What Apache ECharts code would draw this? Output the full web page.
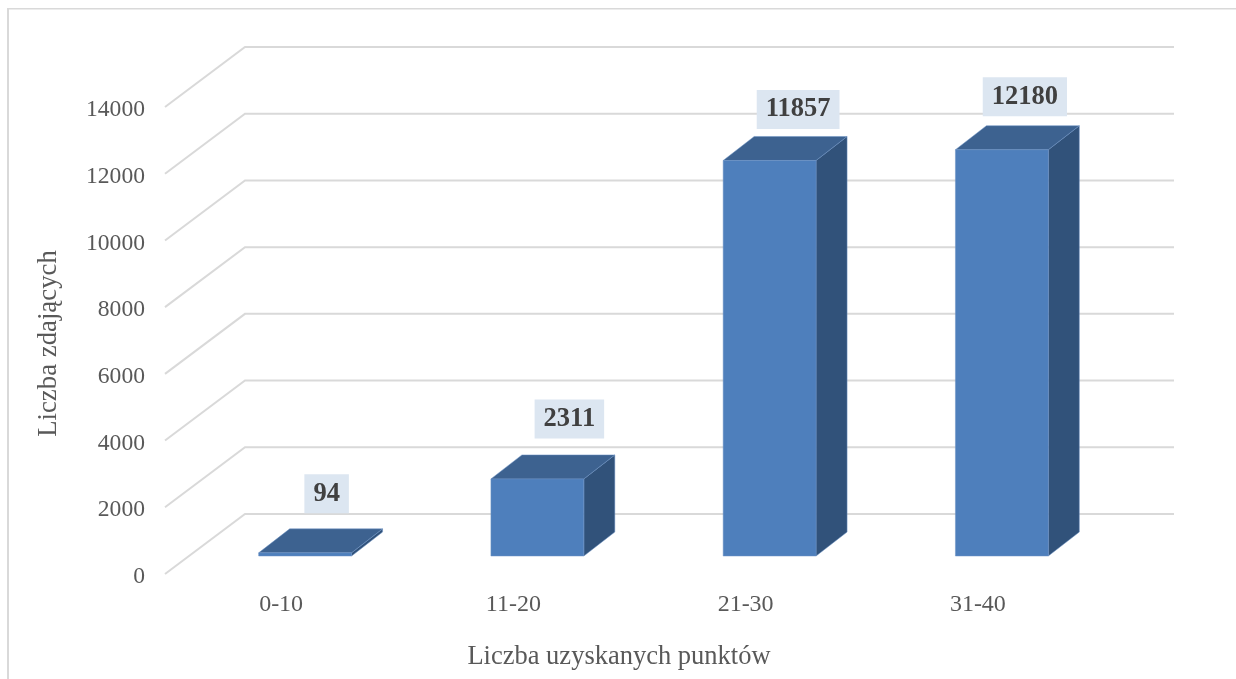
<!DOCTYPE html>
<html lang="pl">
<head>
  <meta charset="UTF-8">
  <title>Liczba zdających</title>
  <style>
    html, body { margin: 0; padding: 0; background: #fff; }
    #chart { width: 1236px; height: 679px; }
  </style>
</head>
<body>
<div id="chart"></div>
<script src="https://cdn.jsdelivr.net/npm/echarts@6/dist/echarts.min.js"></script>
<script>
  var categories = ['0-10', '11-20', '21-30', '31-40'];
  var values = [94, 2311, 11857, 12180];
  var wallTicks = [0, 2000, 4000, 6000, 8000, 10000, 12000, 14000];

  // how far the labels were dragged by hand in the original, [dx, dy] from the top of the bar
  var labelNudge = [[21.5, -59], [32, -60], [28.5, -51], [23, -53]];

  var serif = '"Liberation Serif", "Times New Roman", serif';
  var wallDepth = [80, -60];
  var barDepth = [31, -24];
  var barInset = [24, -18];

  var myChart = echarts.init(document.getElementById('chart'), null, { renderer: 'canvas' });

  function renderWall(params, api) {
    var grid = params.coordSys;
    var y = api.coord([0, api.value(0)])[1];
    var x0 = grid.x;
    var bx = x0 + wallDepth[0];
    var by = y + wallDepth[1];
    return {
      type: 'polyline',
      shape: { points: [[x0, y], [bx, by], [x0 + grid.width + wallDepth[0], by]] },
      style: { fill: null, stroke: '#d9d9d9', lineWidth: 2 }
    };
  }

  function renderBar(params, api) {
    var i = api.value(0);
    var base = api.coord([i, 0]);
    var top = api.coord([i, api.value(1)]);
    var half = api.size([1, 0])[0] * 0.2 ;
    var cx = base[0] + barInset[0];
    var l = cx - half, r = cx + half;
    var y0 = base[1] + barInset[1], y1 = top[1] + barInset[1];
    var dx = barDepth[0], dy = barDepth[1];
    var edge = { stroke: '#6c93c4', lineWidth: 0.5 };
    return {
      type: 'group',
      children: [
        { type: 'polygon', shape: { points: [[r, y0], [r + dx, y0 + dy], [r + dx, y1 + dy], [r, y1]] },
          style: { fill: '#31527a', stroke: edge.stroke, lineWidth: edge.lineWidth } },
        { type: 'polygon', shape: { points: [[l, y1], [l + dx, y1 + dy], [r + dx, y1 + dy], [r, y1]] },
          style: { fill: '#3d6290', stroke: edge.stroke, lineWidth: edge.lineWidth } },
        { type: 'rect', shape: { x: l, y: y1, width: r - l, height: y0 - y1 },
          style: { fill: '#4e7fbc', stroke: edge.stroke, lineWidth: edge.lineWidth } },
        { type: 'text', z2: 10,
          x: cx + labelNudge[i][0], y: y1 + labelNudge[i][1],
          style: {
            text: String(api.value(1)),
            font: 'bold 26.5px ' + serif,
            fill: '#404040',
            align: 'center',
            verticalAlign: 'middle',
            backgroundColor: '#dce6f1',
            padding: [6, 9]
          } }
      ]
    };
  }

  var option = {
    backgroundColor: '#ffffff',
    animation: false,
    grid: { left: 165, top: 107, width: 929, height: 467, outerBoundsMode: 'none' },
    xAxis: {
      type: 'category',
      data: categories,
      name: 'Liczba uzyskanych punktów',
      nameLocation: 'middle',
      nameGap: 70,
      nameTextStyle: { fontFamily: serif, fontSize: 26.5, color: '#595959', padding: [0, 21, 0, 0] },
      axisLine: { show: false },
      axisTick: { show: false },
      axisLabel: { fontFamily: serif, fontSize: 24, color: '#595959', margin: 19 }
    },
    yAxis: {
      type: 'value',
      min: 0,
      max: 14000,
      interval: 2000,
      name: 'Liczba zdających',
      nameLocation: 'middle',
      nameGap: 103,
      nameTextStyle: { fontFamily: serif, fontSize: 26.8, color: '#595959', padding: [0, 6, 0, 0] },
      axisLine: { show: false },
      axisTick: { show: false },
      splitLine: { show: false },
      axisLabel: {
        margin: 20,
        formatter: function (v) { return '{t|' + v + '}'; },
        rich: { t: { fontFamily: serif, fontSize: 23.6, color: '#595959', padding: [6, 0, 0, 0] } }
      }
    },
    graphic: [
      {
        type: 'line',
        silent: true,
        shape: { x1: 8, y1: 8, x2: 8, y2: 679 },
        style: { stroke: '#d9d9d9', lineWidth: 2 }
      },
      {
        type: 'line',
        silent: true,
        shape: { x1: 7, y1: 8.7, x2: 1236, y2: 8.7 },
        style: { stroke: '#d9d9d9', lineWidth: 1.5 }
      }
    ],
    series: [
      {
        name: 'walls',
        type: 'custom',
        coordinateSystem: 'cartesian2d',
        clip: false,
        silent: true,
        encode: { y: 0 },
        data: wallTicks.map(function (t) { return [t]; }),
        renderItem: renderWall,
        z: 1
      },
      {
        name: 'Liczba zdających',
        type: 'custom',
        coordinateSystem: 'cartesian2d',
        clip: false,
        encode: { x: 0, y: 1 },
        data: values.map(function (v, i) { return [i, v]; }),
        renderItem: renderBar,
        z: 2
      }
    ]
  };

  myChart.setOption(option);
  window.addEventListener('resize', myChart.resize);
</script>
</body>
</html>
